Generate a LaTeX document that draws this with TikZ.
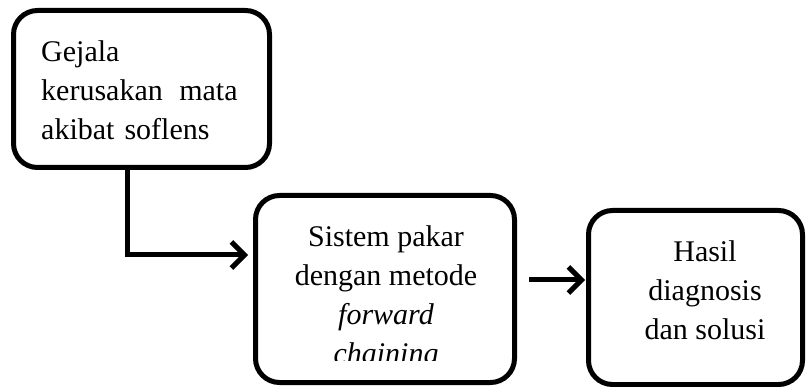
\documentclass[tikz,border=0pt]{standalone}
\usepackage{fontspec}
\setmainfont{Liberation Serif}
\usetikzlibrary{arrows.meta}

\begin{document}
\begin{tikzpicture}[x=1pt,y=-1pt,
       kotak/.style={draw,line width=5pt,rounded corners=24pt,inner sep=0pt},
       teks/.style={inner sep=0pt,anchor=north,font=\fontsize{30}{39}\selectfont},
       panah/.style={line width=5pt,-{Straight Barb[length=13pt,width=26pt]}}]
       \useasboundingbox(0,0)rectangle(806,387);
       \coordinate(G)at(141.5,89);
       \coordinate(S)at(385,289);
       \coordinate(H)at(695.5,297.5);
       \coordinate(belok)at(127,255);
       \coordinate(tengah)at(550,280);
       \node[kotak,minimum width=256pt,minimum height=157pt](gejala)at(G){};
       \node[kotak,minimum width=259pt,minimum height=187pt](sistem)at(S){};
       \node[kotak,minimum width=214pt,minimum height=174pt](hasil)at(H){};
       \node[teks,anchor=north west,text width=215pt,align=left](gejalateks)at(41,40)
              {Gejala\\kerusakan\hspace{.55em}mata\\akibat soflens};
       \begin{scope}
              \clip(255,195)rectangle(515,360);
              \node[teks,align=center](sistemteks)at(386,225)
                     {Sistem pakar\\dengan metode\\\textit{forward}\\\textit{chaining}};
       \end{scope}
       \node[teks,align=center](hasilteks)at(705,240)
              {Hasil\\diagnosis\\dan solusi};
       \draw[panah,shorten >=5pt](gejala.south-|belok)--(belok)--(sistem.west|-belok);
       \draw[panah,shorten <=12pt,shorten >=1pt](sistem.east|-tengah)--(hasil.west|-tengah);
      \end{tikzpicture}
\end{document}
